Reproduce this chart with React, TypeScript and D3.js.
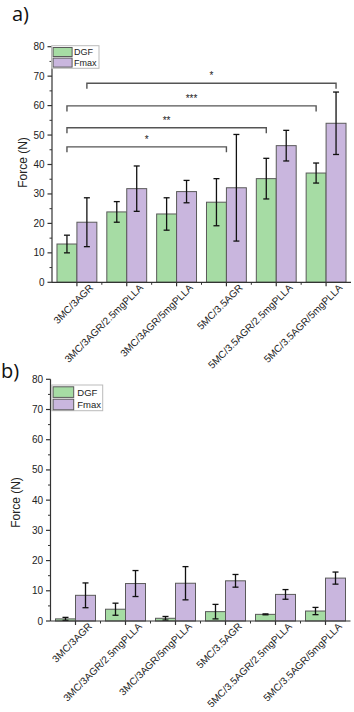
import React from "react";
import * as d3 from "d3";

const categories = [
  "3MC/3AGR",
  "3MC/3AGR/2.5mgPLLA",
  "3MC/3AGR/5mgPLLA",
  "5MC/3.5AGR",
  "5MC/3.5AGR/2.5mgPLLA",
  "5MC/3.5AGR/5mgPLLA",
];
const seriesNames = ["DGF", "Fmax"];
const yTicks = [0, 10, 20, 30, 40, 50, 60, 70, 80];

const aDGF = [13.0, 23.9, 23.2, 27.2, 35.2, 37.1];
const aDGFErr = [3.0, 3.5, 5.5, 8.0, 6.9, 3.4];
const aFmax = [20.4, 31.8, 30.8, 32.1, 46.4, 54.0];
const aFmaxErr = [8.3, 7.7, 3.8, 18.1, 5.2, 10.6];

const bDGF = [0.7, 3.9, 0.9, 3.1, 2.2, 3.3];
const bDGFErr = [0.5, 2.0, 0.6, 2.4, 0.15, 1.2];
const bFmax = [8.5, 12.4, 12.5, 13.3, 8.8, 14.2];
const bFmaxErr = [4.1, 4.3, 5.5, 2.1, 1.6, 2.0];

// significance brackets (panel a): level in N, start/end as [category index, series ("DGF"|"Fmax"|"center")]
const bracketLevels = [67.6, 59.9, 52.5, 46.0];
const bracketLabels = ["*", "***", "**", "*"];
const bracketStarts: [number, string][] = [[0, "Fmax"], [0, "DGF"], [0, "DGF"], [0, "DGF"]];
const bracketEnds: [number, string][] = [[5, "Fmax"], [5, "DGF"], [4, "DGF"], [3, "center"]];

const GREEN = "#a6dca4";
const PURPLE = "#c9b6de";
const FONT = "'Liberation Sans', Arial, sans-serif";

type PanelProps = {
  x0: number; x1: number; yTop: number; yBottom: number;
  dgf: number[]; dgfErr: number[]; fmax: number[]; fmaxErr: number[];
  labelX: number; labelY: number;
  legend: { x: number; y: number; w: number; h: number; sw: number; sh: number; gap: number; tx: number; fs: number };
  brackets?: boolean;
};

function Panel(p: PanelProps) {
  const x = d3.scaleBand<string>().domain(categories).range([p.x0, p.x1]).padding(0);
  const y = d3.scaleLinear().domain([0, 80]).range([p.yBottom, p.yTop]);
  const bw = x.bandwidth();
  const barW = bw * 0.4;
  const barOff = (s: number) => bw * 0.1 + s * barW;
  const center = (i: number, s: string) => {
    const bx = x(categories[i])!;
    if (s === "DGF") return bx + barOff(0) + barW / 2;
    if (s === "Fmax") return bx + barOff(1) + barW / 2;
    return bx + bw / 2;
  };
  const minor = d3.range(5, 80, 10);
  const series = [
    { vals: p.dgf, errs: p.dgfErr, fill: GREEN },
    { vals: p.fmax, errs: p.fmaxErr, fill: PURPLE },
  ];
  const axisColor = "#333";
  return (
    <g fontFamily={FONT}>
      {/* bars */}
      {series.map((s, si) =>
        categories.map((c, i) => (
          <rect key={`b${si}-${i}`} x={x(c)! + barOff(si)} y={y(s.vals[i])} width={barW}
            height={y(0) - y(s.vals[i])} fill={s.fill} stroke="#5a5a5a" strokeWidth={1} />
        ))
      )}
      {/* error bars */}
      {series.map((s, si) =>
        categories.map((c, i) => {
          const cx = x(c)! + barOff(si) + barW / 2;
          const hi = y(s.vals[i] + s.errs[i]);
          const lo = y(Math.max(0, s.vals[i] - s.errs[i]));
          return (
            <g key={`e${si}-${i}`} stroke="#111" strokeWidth={1.3}>
              <line x1={cx} x2={cx} y1={hi} y2={lo} />
              <line x1={cx - 3} x2={cx + 3} y1={hi} y2={hi} />
              <line x1={cx - 3} x2={cx + 3} y1={lo} y2={lo} />
            </g>
          );
        })
      )}
      {/* y axis */}
      <line x1={p.x0} x2={p.x0} y1={y(0)} y2={y(80)} stroke={axisColor} strokeWidth={1.2} />
      {yTicks.map((t) => (
        <g key={`yt${t}`}>
          <line x1={p.x0 - 4.5} x2={p.x0} y1={y(t)} y2={y(t)} stroke={axisColor} strokeWidth={1.2} />
          <text x={p.x0 - 7.5} y={y(t)} dy="0.35em" textAnchor="end" fontSize={10} fill="#222">{t}</text>
        </g>
      ))}
      {minor.map((t) => (
        <line key={`ym${t}`} x1={p.x0 - 2.5} x2={p.x0} y1={y(t)} y2={y(t)} stroke={axisColor} strokeWidth={1} />
      ))}
      <text transform={`translate(${p.labelX},${p.labelY}) rotate(-90)`} textAnchor="middle" dy="0.35em"
        fontSize={12} fill="#222">Force (N)</text>
      {/* x axis */}
      <line x1={p.x0} x2={p.x1} y1={y(0)} y2={y(0)} stroke={axisColor} strokeWidth={1.2} />
      {categories.map((c, i) => {
        const cx = x(c)! + bw / 2;
        return (
          <g key={`xt${i}`}>
            <line x1={cx} x2={cx} y1={y(0)} y2={y(0) + 4} stroke={axisColor} strokeWidth={1.2} />
            {i > 0 && (
              <line x1={x(c)!} x2={x(c)!} y1={y(0)} y2={y(0) + 2.5} stroke={axisColor} strokeWidth={1} />
            )}
            <text transform={`translate(${cx + 17},${y(0) + 6}) rotate(-45)`} textAnchor="end"
              fontSize={10} fill="#222">{c}</text>
          </g>
        );
      })}
      {/* legend */}
      <rect x={p.legend.x} y={p.legend.y} width={p.legend.w} height={p.legend.h} fill="white"
        stroke="#bbb" strokeWidth={1} />
      {seriesNames.map((n, i) => {
        const sy = p.legend.y + 1.8 + i * (p.legend.sh + p.legend.gap);
        return (
          <g key={`lg${i}`}>
            <rect x={p.legend.x + 1.4} y={sy} width={p.legend.sw} height={p.legend.sh}
              fill={i === 0 ? GREEN : PURPLE} stroke="#5a5a5a" strokeWidth={1} />
            <text x={p.legend.tx} y={sy + p.legend.sh / 2} dy="0.36em" fontSize={p.legend.fs} fill="#222">{n}</text>
          </g>
        );
      })}
      {/* significance brackets */}
      {p.brackets &&
        bracketLevels.map((lv, k) => {
          const xa = center(bracketStarts[k][0], bracketStarts[k][1]);
          const xb = center(bracketEnds[k][0], bracketEnds[k][1]);
          const by = y(lv);
          return (
            <g key={`br${k}`}>
              <path d={`M${xa},${by + 5.5}V${by}H${xb}V${by + 5.5}`} fill="none" stroke="#555" strokeWidth={1.4} />
              <text x={(xa + xb) / 2} y={by - 4} textAnchor="middle" fontSize={10} fill="#222">{bracketLabels[k]}</text>
            </g>
          );
        })}
    </g>
  );
}

export default function App() {
  return (
    <svg width={354} height={712} style={{ position: "absolute", left: 0, top: 0, display: "block", background: "white" }}>
      <text x={12} y={21} fontSize={20} fontFamily="'Open Sans', sans-serif" fill="#111">a)</text>
      <text x={1} y={378} fontSize={20} fontFamily="'Open Sans', sans-serif" fill="#111">b)</text>
      <Panel x0={52} x1={351} yTop={46.7} yBottom={282.3}
        dgf={aDGF} dgfErr={aDGFErr} fmax={aFmax} fmaxErr={aFmaxErr}
        labelX={23} labelY={162.5}
        legend={{ x: 51.7, y: 45.7, w: 47.3, h: 22.6, sw: 19, sh: 9, gap: 1.6, tx: 74, fs: 9 }}
        brackets />
      <Panel x0={50.5} x1={350.5} yTop={379.3} yBottom={621}
        dgf={bDGF} dgfErr={bDGFErr} fmax={bFmax} fmaxErr={bFmaxErr}
        labelX={15.5} labelY={502.5}
        legend={{ x: 51.7, y: 385, w: 51, h: 25.7, sw: 20.6, sh: 10.6, gap: 1.8, tx: 77.3, fs: 9.5 }} />
    </svg>
  );
}
